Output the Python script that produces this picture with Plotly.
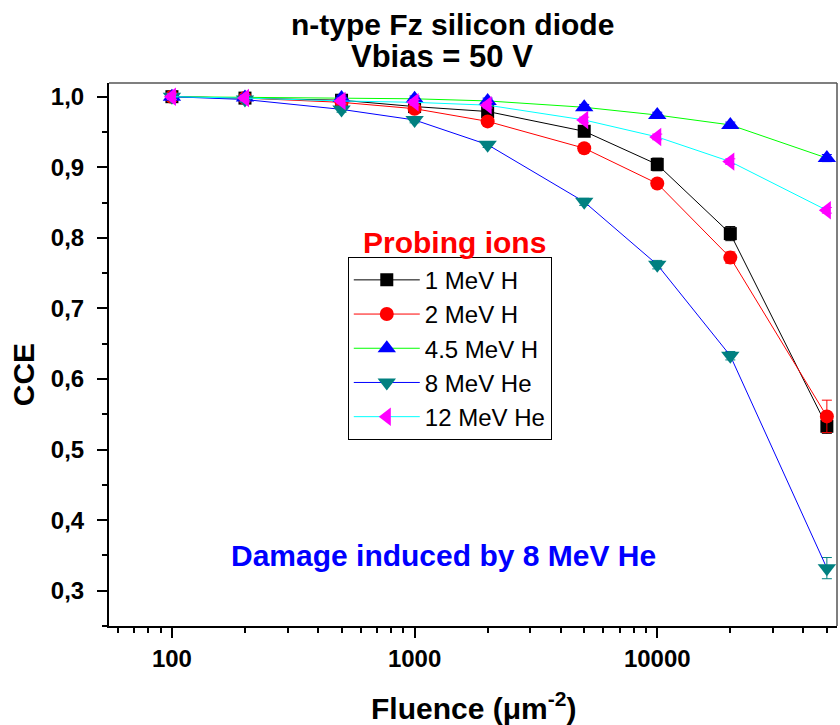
import plotly.graph_objects as go

fluence = [100, 200, 500, 1000, 2000, 5000, 10000, 20000, 50000]

series_names = ["1 MeV H", "2 MeV H", "4.5 MeV H", "8 MeV He", "12 MeV He"]
cce_1MeV_H = [1.000, 0.998, 0.995, 0.986, 0.979, 0.951, 0.904, 0.806, 0.533]
cce_2MeV_H = [1.000, 0.998, 0.992, 0.983, 0.965, 0.927, 0.877, 0.772, 0.547]
cce_45MeV_H = [1.000, 0.999, 0.998, 0.997, 0.994, 0.985, 0.974, 0.960, 0.913]
cce_8MeV_He = [1.000, 0.996, 0.982, 0.967, 0.932, 0.851, 0.762, 0.633, 0.332]
cce_12MeV_He = [1.000, 0.998, 0.994, 0.992, 0.988, 0.967, 0.943, 0.908, 0.839]

err_1MeV_H = [0.004, 0.004, 0.004, 0.004, 0.004, 0.006, 0.009, 0.010, 0.010]
err_2MeV_H = [0.003, 0.003, 0.003, 0.003, 0.003, 0.004, 0.005, 0.008, 0.023]
err_45MeV_H = [0.004, 0.004, 0.004, 0.004, 0.004, 0.004, 0.004, 0.004, 0.005]
err_8MeV_He = [0.004, 0.004, 0.004, 0.004, 0.004, 0.005, 0.006, 0.006, 0.015]
err_12MeV_He = [0.004, 0.004, 0.004, 0.004, 0.004, 0.004, 0.004, 0.004, 0.004]

x_tick_vals = [100, 1000, 10000]
x_tick_text = ["100", "1000", "10000"]
x_minor_vals = [60, 70, 80, 90, 200, 300, 400, 500, 600, 700, 800, 900,
                2000, 3000, 4000, 5000, 6000, 7000, 8000, 9000,
                20000, 30000, 40000, 50000]

FONT = "Arial, Liberation Sans, sans-serif"

data = [
    (cce_1MeV_H, err_1MeV_H, "#000000", "#000000", "square", 13),
    (cce_2MeV_H, err_2MeV_H, "#ff0000", "#ff0000", "circle", 14),
    (cce_45MeV_H, err_45MeV_H, "#00ff00", "#0000ff", "triangle-up", 16),
    (cce_8MeV_He, err_8MeV_He, "#0000ff", "#008080", "triangle-down", 16),
    (cce_12MeV_He, err_12MeV_He, "#00ffff", "#ff00ff", "triangle-left", 16),
]

fig = go.Figure()
for name, (yv, ev, lc, mc, sym, ms) in zip(series_names, data):
    fig.add_trace(go.Scatter(
        x=fluence, y=yv, name=name, mode="lines+markers",
        line=dict(color=lc, width=1),
        marker=dict(color=mc, symbol=sym, size=ms, line=dict(width=0)),
        error_y=dict(type="data", array=ev, visible=True, color=mc,
                     thickness=1, width=5),
    ))

fig.update_layout(
    width=840, height=725,
    margin=dict(l=109, r=3, t=83, b=99),
    paper_bgcolor="white", plot_bgcolor="white",
    separators=",.",
    font=dict(family=FONT, color="black"),
    showlegend=True,
    legend=dict(
        x=0.328, y=0.68, xanchor="left", yanchor="top",
        bgcolor="white", bordercolor="black", borderwidth=1,
        font=dict(family=FONT, size=24, color="black"),
        itemwidth=66, tracegroupgap=0,
    ),
    xaxis=dict(
        type="log", range=[1.7407, 4.7407],
        tickvals=x_tick_vals, ticktext=x_tick_text,
        ticks="outside", ticklen=10, tickwidth=2, tickcolor="black",
        showline=True, linecolor="black", linewidth=2,
        showgrid=False, zeroline=False,
        tickfont=dict(family=FONT, size=24, color="black", weight="bold"),
        minor=dict(tickvals=x_minor_vals, ticks="outside", ticklen=5,
                   tickwidth=2, tickcolor="black", showgrid=False),
    ),
    yaxis=dict(
        range=[0.25, 1.0194],
        tick0=0.3, dtick=0.1, tickformat=".1f",
        ticks="outside", ticklen=10, tickwidth=2, tickcolor="black",
        showline=True, linecolor="black", linewidth=2,
        showgrid=False, zeroline=False,
        ticklabelstandoff=8,
        tickfont=dict(family=FONT, size=24, color="black", weight="bold"),
        minor=dict(tick0=0.25, dtick=0.1, ticks="outside", ticklen=5,
                   tickwidth=2, tickcolor="black", showgrid=False),
    ),
    shapes=[
        dict(type="line", xref="paper", yref="paper", x0=0, x1=1, y0=1, y1=1,
             line=dict(color="#555555", width=1.5)),
        dict(type="line", xref="paper", yref="paper", x0=1, x1=1, y0=0, y1=1,
             line=dict(color="#555555", width=1.5)),
    ],
    annotations=[
        dict(text="<b>n-type Fz silicon diode</b>", xref="paper", yref="paper",
             x=0.4716, y=1.107, xanchor="center", yanchor="middle", showarrow=False,
             font=dict(family=FONT, size=30, color="black")),
        dict(text="<b>Vbias = 50 V</b>", xref="paper", yref="paper",
             x=0.457, y=1.048, xanchor="center", yanchor="middle", showarrow=False,
             font=dict(family=FONT, size=31, color="black")),
        dict(text="<b>Probing ions</b>", xref="paper", yref="paper",
             x=0.475, y=0.707, xanchor="center", yanchor="middle", showarrow=False,
             font=dict(family=FONT, size=30, color="#ff0000")),
        dict(text="<b>Damage induced by 8 MeV He</b>", xref="paper", yref="paper",
             x=0.459, y=0.129, xanchor="center", yanchor="middle", showarrow=False,
             font=dict(family=FONT, size=30, color="#0000ff")),
        dict(text="<b>CCE</b>", xref="paper", yref="paper", textangle=-90,
             x=-0.118, y=0.462, xanchor="center", yanchor="middle", showarrow=False,
             font=dict(family=FONT, size=30, color="black")),
        dict(text="<b>Fluence (μm<sup>-2</sup>)</b>", xref="paper", yref="paper",
             x=0.5, y=-0.147, xanchor="center", yanchor="middle", showarrow=False,
             font=dict(family=FONT, size=30, color="black")),
    ],
)

fig.write_html("out.html")
